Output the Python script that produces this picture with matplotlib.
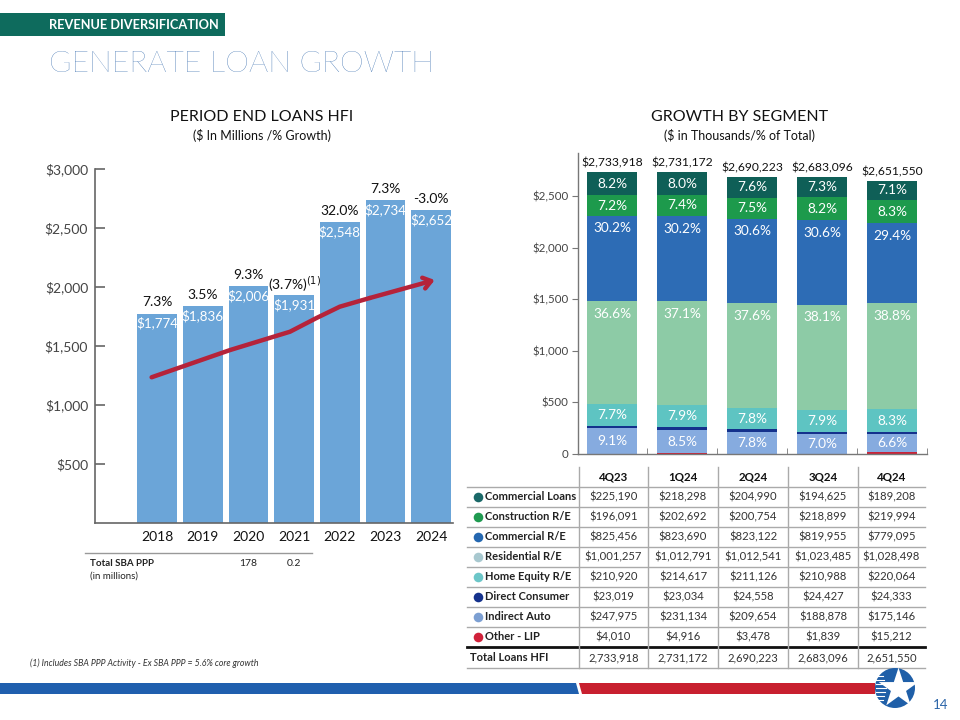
import matplotlib
matplotlib.use('Agg')
import matplotlib.pyplot as plt
from matplotlib.patches import Rectangle, Circle, Polygon
from matplotlib.transforms import blended_transform_factory

plt.rcParams['font.family'] = ['Lato', 'DejaVu Sans']

# ---------------- data: left chart ----------------
years = ['2018', '2019', '2020', '2021', '2022', '2023', '2024']
loans = [1774, 1836, 2006, 1931, 2548, 2734, 2652]
growth = ['7.3%', '3.5%', '9.3%', '(3.7%)', '32.0%', '7.3%', '-3.0%']
growth_notes = ['', '', '', '(1)', '', '', '']
trend_x = [-0.12, 1.6, 2.91, 3.49, 4.0, 4.66, 6.08]
trend_y = [1235, 1466, 1621, 1737, 1833, 1907, 2059]
left_yticks = [500, 1000, 1500, 2000, 2500, 3000]
sba_years = ['2020', '2021']
sba_vals = ['178', '0.2']

# ---------------- data: right chart ----------------
quarters = ['4Q23', '1Q24', '2Q24', '3Q24', '4Q24']
segments = ['Commercial Loans', 'Construction R/E', 'Commercial R/E', 'Residential R/E',
            'Home Equity R/E', 'Direct Consumer', 'Indirect Auto', 'Other - LIP']
commercial_loans = [225190, 218298, 204990, 194625, 189208]
construction_re = [196091, 202692, 200754, 218899, 219994]
commercial_re = [825456, 823690, 823122, 819955, 779095]
residential_re = [1001257, 1012791, 1012541, 1023485, 1028498]
home_equity_re = [210920, 214617, 211126, 210988, 220064]
direct_consumer = [23019, 23034, 24558, 24427, 24333]
indirect_auto = [247975, 231134, 209654, 188878, 175146]
other_lip = [4010, 4916, 3478, 1839, 15212]
totals = [2733918, 2731172, 2690223, 2683096, 2651550]
pct_commercial_loans = ['8.2%', '8.0%', '7.6%', '7.3%', '7.1%']
pct_construction_re = ['7.2%', '7.4%', '7.5%', '8.2%', '8.3%']
pct_commercial_re = ['30.2%', '30.2%', '30.6%', '30.6%', '29.4%']
pct_residential_re = ['36.6%', '37.1%', '37.6%', '38.1%', '38.8%']
pct_home_equity_re = ['7.7%', '7.9%', '7.8%', '7.9%', '8.3%']
pct_indirect_auto = ['9.1%', '8.5%', '7.8%', '7.0%', '6.6%']
right_yticks = [0, 500, 1000, 1500, 2000, 2500]

seg_values = [commercial_loans, construction_re, commercial_re, residential_re,
              home_equity_re, direct_consumer, indirect_auto, other_lip]
seg_pcts = [pct_commercial_loans, pct_construction_re, pct_commercial_re, pct_residential_re,
            pct_home_equity_re, None, pct_indirect_auto, None]
bar_colors = ['#0f5f57', '#1d9a4c', '#2d6cb5', '#8dcba6', '#5ec4c2', '#14318c', '#86abdf', '#c8243a']
dot_colors = ['#1a6868', '#1f9a50', '#2467b0', '#a8c8cf', '#6cc6c8', '#14318c', '#7c9fd2', '#d0213a']
big_segments = ['Commercial R/E', 'Residential R/E']

W, H = 960, 720
fig = plt.figure(figsize=(9.6, 7.2), dpi=100)


def rect(l, t, r, b):
    return [l / W, 1 - b / H, (r - l) / W, (b - t) / H]


bg = fig.add_axes([0, 0, 1, 1], zorder=0)
bg.set_xlim(0, W)
bg.set_ylim(H, 0)
bg.axis('off')

# ---------------- header ----------------
bg.add_patch(Rectangle((0, 13), 225, 23, color='#0e6b5d', lw=0))
bg.text(49, 25, 'REVENUE DIVERSIFICATION', color='white', fontsize=9.2, fontweight='bold',
        ha='left', va='center')
bg.text(49, 64, 'GENERATE LOAN GROWTH', color='#235ea6', fontsize=21.8, fontweight='light',
        ha='left', va='center')

bg.text(262, 117, 'PERIOD END LOANS HFI', fontsize=11.5, ha='center', va='center', color='#111')
bg.text(262, 135, '($ In Millions /% Growth)', fontsize=9, ha='center', va='center', color='#111')
bg.text(740, 117, 'GROWTH BY SEGMENT', fontsize=11.5, ha='center', va='center', color='#111')
bg.text(740, 135, '($ in Thousands/% of Total)', fontsize=9, ha='center', va='center', color='#111')

# ---------------- left chart ----------------
ax1 = fig.add_axes(rect(95, 169, 453, 523), zorder=2)
ax1.patch.set_alpha(0)
xs = list(range(len(years)))
ax1.bar(xs, loans, width=0.87, color='#6ba5d8', zorder=1)
ax1.set_xlim(-1.36, 6.48)
ax1.set_ylim(0, 3000)
for s in ['top', 'right']:
    ax1.spines[s].set_visible(False)
for s in ['left', 'bottom']:
    ax1.spines[s].set_color('#666')
    ax1.spines[s].set_linewidth(1.2)
ax1.set_yticks(left_yticks)
ax1.set_yticklabels([f'${v:,}' for v in left_yticks])
ax1.tick_params(axis='y', direction='in', length=7, width=1.2, color='#666',
                labelsize=10, labelcolor='#444', pad=5)
ax1.set_xticks(xs)
ax1.set_xticklabels(years)
ax1.tick_params(axis='x', length=0, pad=6, labelsize=10, labelcolor='#111')

for i, v in enumerate(loans):
    ax1.text(i, v - 80, f'${v:,}', ha='center', va='center', color='white', fontsize=9.6, zorder=3)
    lbl = growth[i]
    if growth_notes[i]:
        lbl = lbl + r'$^{\mathrm{' + growth_notes[i] + '}}$'
    ax1.text(i, v + 95, lbl, ha='center', va='center', color='#111', fontsize=10, zorder=3)

ax1.plot(trend_x[:-1], trend_y[:-1], color='#b5233a', lw=3.2, solid_capstyle='round',
         solid_joinstyle='round', zorder=4)
ax1.annotate('', xy=(trend_x[-1], trend_y[-1]), xytext=(trend_x[-2], trend_y[-2]),
             arrowprops=dict(arrowstyle='->,head_length=0.55,head_width=0.4', color='#b5233a',
                             lw=3.2, shrinkA=0, shrinkB=0), zorder=4)

# SBA PPP mini table
bg.plot([85, 312], [553, 553], color='#999', lw=1)
bg.text(90, 563, 'Total SBA PPP', fontsize=7, fontweight='bold', ha='left', va='center', color='#222')
bg.text(90, 576, '(in millions)', fontsize=7, ha='left', va='center', color='#222')
tr = blended_transform_factory(ax1.transData, bg.transData)
for yr, val in zip(sba_years, sba_vals):
    bg.text(years.index(yr), 563, val, transform=tr, fontsize=7.5, ha='center', va='center', color='#222')

bg.text(30, 663, '(1) Includes SBA PPP Activity - Ex SBA PPP = 5.6% core growth', fontsize=6.3,
        style='italic', ha='left', va='center', color='#333')

# ---------------- right chart ----------------
ax2 = fig.add_axes(rect(578, 153, 927, 454), zorder=2)
ax2.patch.set_alpha(0)
qx = list(range(len(quarters)))
order = list(range(len(segments)))[::-1]  # bottom: Other - LIP
bottoms = [0.0] * len(quarters)
for k in order:
    vals = [v / 1000 for v in seg_values[k]]
    ax2.bar(qx, vals, width=0.71, bottom=bottoms, color=bar_colors[k], lw=0, zorder=1)
    pcts = seg_pcts[k]
    if pcts is not None:
        for i in qx:
            if segments[k] in big_segments:
                y = bottoms[i] + vals[i] - 125
            else:
                y = bottoms[i] + vals[i] / 2
            ax2.text(i, y, pcts[i], ha='center', va='center', color='white', fontsize=9.8, zorder=3)
    bottoms = [b + v for b, v in zip(bottoms, vals)]

for i, t in enumerate(totals):
    ax2.text(i, bottoms[i] + 90, f'${t:,}', ha='center', va='center', color='#111', fontsize=8.7)

ax2.set_xlim(-0.49, 4.5)
ax2.set_ylim(0, 2920)
for s in ['top', 'right']:
    ax2.spines[s].set_visible(False)
for s in ['left', 'bottom']:
    ax2.spines[s].set_color('#777')
    ax2.spines[s].set_linewidth(1)
ax2.set_yticks(right_yticks)
ax2.set_yticklabels(['0' if v == 0 else f'${v:,}' for v in right_yticks])
ax2.tick_params(axis='y', direction='out', length=4, color='#777', labelsize=8.3, labelcolor='#444', pad=3)
ax2.set_xticks([])
ax2.set_xticks([i + 0.5 for i in qx], minor=True)
ax2.tick_params(axis='x', which='minor', direction='in', length=4, color='#777')

# ---------------- data table ----------------
cols = [467, 579, 648, 718, 788, 858, 925]
top = 467
rh = 20
for j, q in enumerate(quarters):
    bg.text((cols[j + 1] + cols[j + 2]) / 2, top + rh / 2, q, fontsize=8.3, fontweight='bold',
            ha='center', va='center', color='#111')
for r, name in enumerate(segments):
    yc = top + rh * (r + 1) + rh / 2
    bg.scatter([478], [yc], s=48, color=dot_colors[r], zorder=3, linewidths=0)
    bg.text(485, yc, name, fontsize=8, fontweight='bold', ha='left', va='center', color='#222')
    for j, v in enumerate(seg_values[r]):
        bg.text((cols[j + 1] + cols[j + 2]) / 2, yc, f'${v:,}', fontsize=8.1, ha='center',
                va='center', color='#333')
ytot = top + rh * (len(segments) + 1) + 10.5
bg.text(470, ytot, 'Total Loans HFI', fontsize=8, fontweight='bold', ha='left', va='center', color='#222')
for j, t in enumerate(totals):
    bg.text((cols[j + 1] + cols[j + 2]) / 2, ytot, f'{t:,}', fontsize=8.1, ha='center',
            va='center', color='#333')
for r in range(len(segments)):
    yl = top + rh * (r + 1)
    bg.plot([cols[0], cols[-1]], [yl, yl], color='#aaa', lw=1)
ythick = top + rh * (len(segments) + 1)
bg.plot([cols[0], cols[-1]], [ythick, ythick], color='#111', lw=2)
bg.plot([cols[0], cols[-1]], [ythick + 21, ythick + 21], color='#aaa', lw=1)
for c in cols[1:-1]:
    bg.plot([c, c], [top, ythick + 21], color='#aaa', lw=1)

# ---------------- footer ----------------
bg.add_patch(Polygon([(0, 683), (576, 683), (579, 694), (0, 694)], closed=True, color='#1f5fae', lw=0))
bg.add_patch(Polygon([(579, 683), (875, 683), (875, 694), (582, 694)], closed=True, color='#c8202f', lw=0))
bg.add_patch(Circle((895, 688), 20, color='#1f5fa8', lw=0, zorder=3))
for k, yy in enumerate([676, 680, 684, 688, 692, 696, 700]):
    bg.plot([876, 886 - abs(k - 3)], [yy, yy], color='white', lw=0.8, zorder=4)
bg.scatter([898], [688], s=900, marker='*', color='white', zorder=5, linewidths=0)
bg.text(941, 705, '14', fontsize=9.5, color='#2a64a8', ha='center', va='center')

fig.savefig('out.png', dpi=100)
